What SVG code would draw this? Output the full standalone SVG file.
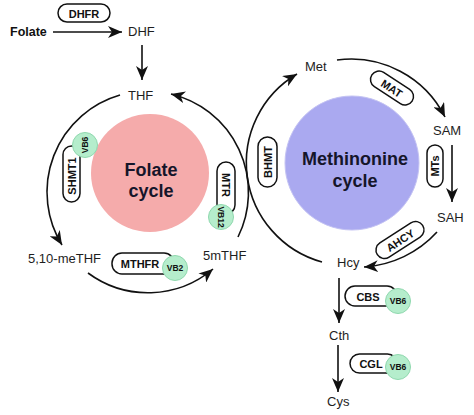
<svg xmlns="http://www.w3.org/2000/svg" width="474" height="415" viewBox="0 0 474 415">
<style>
.lbl{font-family:"Liberation Sans",Arial,sans-serif;font-size:13px;fill:#1e1e1e}
.pill{fill:#fff;stroke:#111;stroke-width:1.5}
.ptx{font-family:"Liberation Sans",Arial,sans-serif;font-size:11px;font-weight:bold;fill:#111;text-anchor:middle;dominant-baseline:central}
.vb{fill:#b5edcc;stroke:#8fd8ae;stroke-width:1}
.vtx{font-family:"Liberation Sans",Arial,sans-serif;font-size:8.5px;font-weight:bold;fill:#111;text-anchor:middle;dominant-baseline:central}
.cyc{font-family:"Liberation Sans",Arial,sans-serif;font-size:18px;font-weight:bold;fill:#15152a;text-anchor:middle}
.con{fill:none;stroke:#111;stroke-width:1.6;marker-end:url(#ah)}
</style>
<defs>
<marker id="ah" markerUnits="userSpaceOnUse" markerWidth="16" markerHeight="12" refX="14" refY="6" orient="auto">
<path d="M0,0 L14,6 L0,12 L4,6 z" fill="#111"/>
</marker>
</defs>

<g id="folate-circle"><circle cx="150" cy="173" r="59" fill="#f5abab"/><text class="cyc" x="151" y="176">Folate</text><text class="cyc" x="151" y="197">cycle</text></g>
<g id="met-circle"><circle cx="352" cy="163" r="67" fill="#aaa9f0" stroke="#c4c3f3" stroke-width="1"/><text class="cyc" x="355" y="165">Methinonine</text><text class="cyc" x="355" y="187">cycle</text></g>

<g id="connectors">
<path class="con" d="M53,32 L122,32"/>
<path class="con" d="M142,45 L142,80"/>
<path class="con" d="M120,95 A101,101 0 0 0 62,245"/>
<path class="con" d="M88,273 A101,101 0 0 0 213,269"/>
<path class="con" d="M238,237 A101,101 0 0 0 171,94"/>
<path class="con" d="M337,60 A105,105 0 0 1 445,117"/>
<path class="con" d="M452,145 L452,202"/>
<path class="con" d="M437,232 A108,108 0 0 1 364,267"/>
<path class="con" d="M322,262 A103,103 0 0 1 297,74"/>
<path class="con" d="M339,278 L339,323"/>
<path class="con" d="M338,345 L338,392"/>
</g>

<g id="n-folate"><text class="lbl" x="10" y="36" style="font-weight:bold;font-size:12.5px;fill:#111">Folate</text></g>
<g id="n-dhf"><text class="lbl" x="128" y="36">DHF</text></g>
<g id="n-thf"><text class="lbl" x="128" y="100">THF</text></g>
<g id="n-meTHF"><text class="lbl" x="28" y="263">5,10-meTHF</text></g>
<g id="n-5mthf"><text class="lbl" x="203" y="260">5mTHF</text></g>
<g id="n-met"><text class="lbl" x="305" y="71">Met</text></g>
<g id="n-sam"><text class="lbl" x="433" y="135">SAM</text></g>
<g id="n-sah"><text class="lbl" x="437" y="222">SAH</text></g>
<g id="n-hcy"><text class="lbl" x="337" y="267">Hcy</text></g>
<g id="n-cth"><text class="lbl" x="329" y="340">Cth</text></g>
<g id="n-cys"><text class="lbl" x="327" y="406">Cys</text></g>

<g id="e-dhfr"><rect class="pill" x="58" y="4" width="52" height="18" rx="9"/><text class="ptx" x="84" y="13.5">DHFR</text></g>
<g id="e-shmt1"><rect class="pill" x="63" y="146" width="17" height="56" rx="8.5"/><text class="ptx" transform="translate(71.5,176) rotate(-90)">SHMT1</text><circle class="vb" cx="85" cy="145" r="12.5"/><text class="vtx" transform="translate(85,145) rotate(-90)">VB6</text></g>
<g id="e-mtr"><rect class="pill" x="217" y="162" width="18" height="52" rx="9"/><text class="ptx" transform="translate(226,185) rotate(90)">MTR</text><circle class="vb" cx="221" cy="217" r="12.5"/><text class="vtx" transform="translate(221,217) rotate(90)">VB12</text></g>
<g id="e-mthfr"><rect class="pill" x="112" y="253" width="62" height="21" rx="10"/><text class="ptx" x="140" y="264">MTHFR</text><circle class="vb" cx="175" cy="268" r="12.5"/><text class="vtx" x="175" y="268">VB2</text></g>
<g id="e-bhmt"><rect class="pill" x="258" y="137" width="19" height="50" rx="9.5"/><text class="ptx" transform="translate(267.5,162) rotate(-90)">BHMT</text></g>
<g id="e-mat"><g transform="translate(392,88) rotate(33)"><rect class="pill" x="-24" y="-8.5" width="48" height="17" rx="8.5"/><text class="ptx" x="0" y="0.5">MAT</text></g></g>
<g id="e-mts"><rect class="pill" x="427" y="145" width="16" height="42" rx="8"/><text class="ptx" transform="translate(435,166) rotate(-90)">MTs</text></g>
<g id="e-ahcy"><g transform="translate(400,240) rotate(-33)"><rect class="pill" x="-27" y="-8.5" width="54" height="17" rx="8.5"/><text class="ptx" x="0" y="0.5">AHCY</text></g></g>
<g id="e-cbs"><rect class="pill" x="345" y="286" width="52" height="20" rx="10"/><text class="ptx" x="368" y="296.5">CBS</text><circle class="vb" cx="398" cy="301" r="12.5"/><text class="vtx" x="398" y="301">VB6</text></g>
<g id="e-cgl"><rect class="pill" x="350" y="354" width="47" height="19" rx="9.5"/><text class="ptx" x="371" y="364">CGL</text><circle class="vb" cx="398" cy="367" r="12.5"/><text class="vtx" x="398" y="367">VB6</text></g>
</svg>
